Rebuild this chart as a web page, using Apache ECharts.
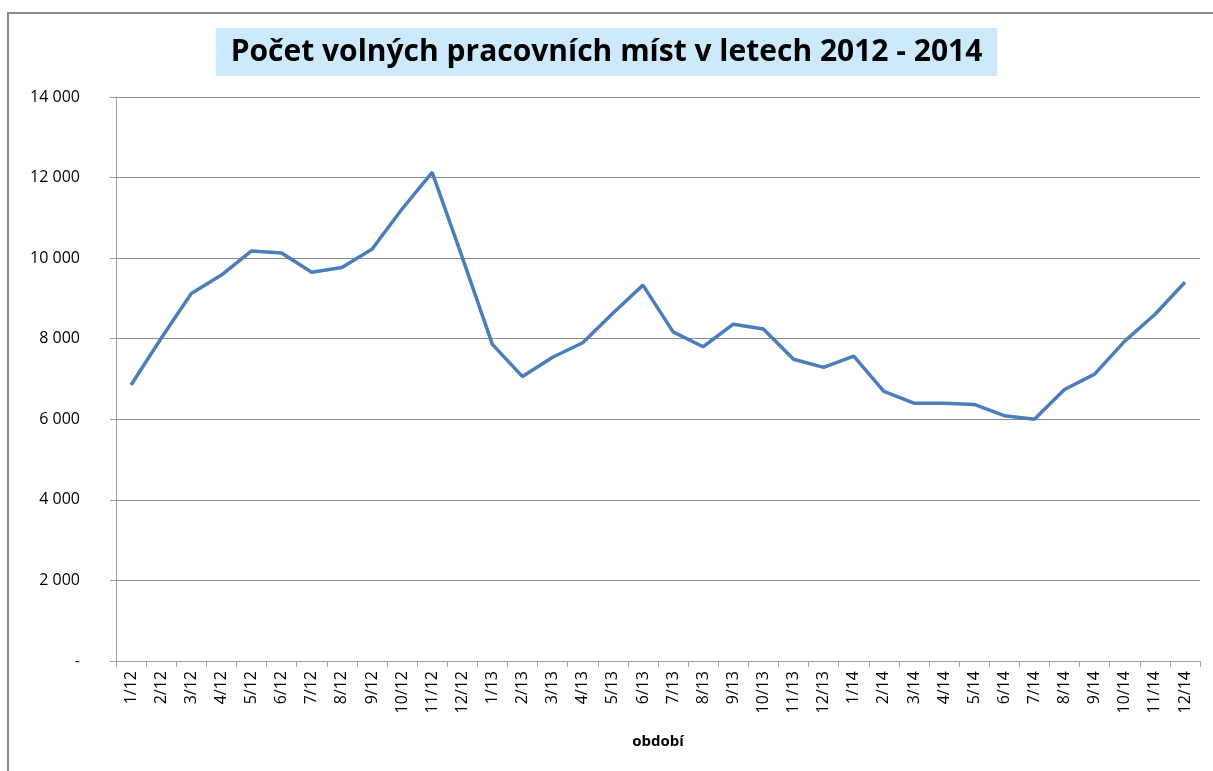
<!DOCTYPE html>
<html>
<head>
<meta charset="utf-8">
<script src="https://cdn.jsdelivr.net/npm/echarts@6/dist/echarts.min.js"></script>
<style>
  html, body { margin: 0; padding: 0; background: #fff; }
  #frame { position: absolute; left: 7px; top: 12px; width: 1220px; height: 770px; border: 2px solid #8a8a8a; box-sizing: border-box; }
  #chart { position: absolute; left: 0; top: 0; width: 1213px; height: 771px; }
</style>
</head>
<body>
<div id="frame"></div>
<div id="chart"></div>
<script>
// období (měsíc/rok)
const months = [
  '1/12', '2/12', '3/12', '4/12', '5/12', '6/12', '7/12', '8/12', '9/12', '10/12', '11/12', '12/12',
  '1/13', '2/13', '3/13', '4/13', '5/13', '6/13', '7/13', '8/13', '9/13', '10/13', '11/13', '12/13',
  '1/14', '2/14', '3/14', '4/14', '5/14', '6/14', '7/14', '8/14', '9/14', '10/14', '11/14', '12/14'
]
// počet volných míst
const vacancies2012 = [6850, 8010, 9120, 9580, 10180, 10130, 9650, 9770, 10220, 11220, 12130, 10020]
const vacancies2013 = [7860, 7060, 7540, 7900, 8630, 9330, 8170, 7800, 8360, 8240, 7490, 7290]
const vacancies2014 = [7570, 6690, 6400, 6400, 6370, 6090, 6000, 6740, 7120, 7940, 8600, 9400]
const vacancies = vacancies2012.concat(vacancies2013, vacancies2014)

const chart = echarts.init(document.getElementById('chart'))

// 0 se v originále ukazuje jako pomlčka
const fmt = (v) => (v === 0 ? '-' : String(v).replace(/\B(?=(\d{3})+(?!\d))/g, ' '))

const option = {
  animation: false,
  title: {
    text: 'Počet volných pracovních míst v letech 2012 - 2014',
    left: 'center',
    top: 28,
    backgroundColor: '#cdeafc',
    padding: [9, 15, 9, 15],
    textStyle: {
      fontFamily: 'Open Sans',
      fontWeight: 'bold',
      fontSize: 30,
      color: '#000'
    }
  },
  grid: {
    left: 116,
    right: 13,
    top: 97,
    bottom: 110
  },
  xAxis: {
    type: 'category',
    data: months,
    boundaryGap: true,
    name: 'období',
    nameLocation: 'middle',
    nameGap: 73,
    nameTextStyle: {
      fontFamily: 'Open Sans',
      fontWeight: 'bold',
      fontSize: 15,
      color: '#000'
    },
    axisLine: { lineStyle: { color: '#a0a0a0', width: 1 } },
    axisTick: { show: true, alignWithLabel: false, length: 6, lineStyle: { color: '#a0a0a0' } },
    axisLabel: {
      rotate: 90,
      interval: 0,
      margin: 10,
      fontFamily: 'Open Sans',
      fontSize: 16,
      color: '#000'
    }
  },
  yAxis: {
    type: 'value',
    min: 0,
    max: 14000,
    interval: 2000,
    axisLine: { show: true, lineStyle: { color: '#a0a0a0', width: 1 } },
    axisTick: { show: true, length: 6, lineStyle: { color: '#a0a0a0' } },
    splitLine: { lineStyle: { color: '#8c8c8c', width: 1 } },
    axisLabel: {
      margin: 36,
      fontFamily: 'Open Sans',
      fontSize: 16,
      color: '#000',
      formatter: fmt
    }
  },
  series: [
    {
      type: 'line',
      data: vacancies,
      symbol: 'none',
      lineStyle: { color: '#4a7ebb', width: 3.5 },
      itemStyle: { color: '#4a7ebb' }
    }
  ]
}

chart.setOption(option)
</script>
</body>
</html>
